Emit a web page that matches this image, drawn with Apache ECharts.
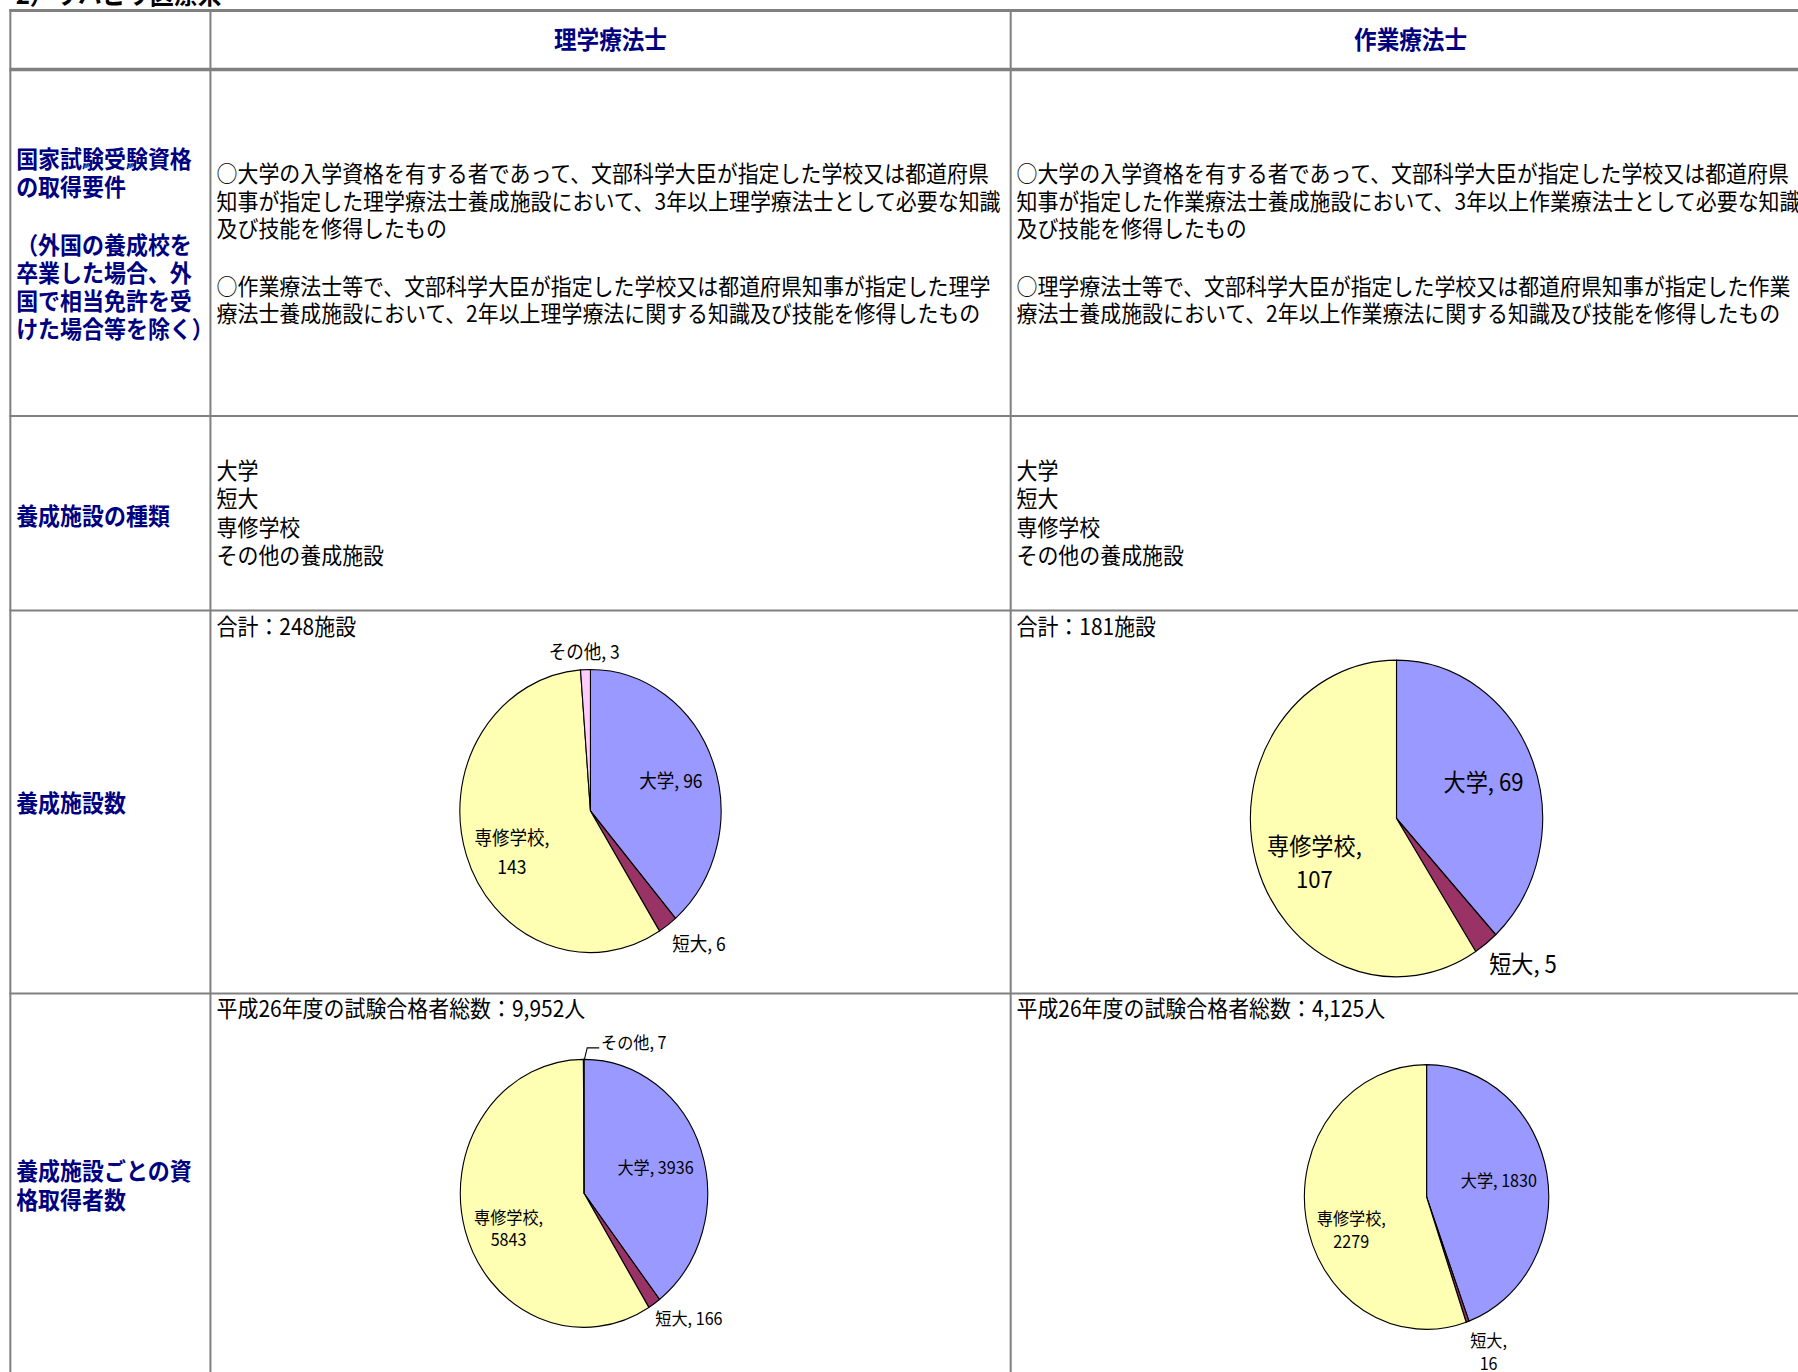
<!DOCTYPE html>
<html><head><meta charset="utf-8">
<script src="https://cdn.jsdelivr.net/npm/echarts@6/dist/echarts.min.js"></script>
<style>
html,body{margin:0;padding:0;background:#fff;overflow:hidden;width:1798px;height:1372px}
#chart{width:1948px;height:1372px;transform:scaleX(0.923);transform-origin:0 0;}
</style>
</head><body><div id="chart"></div>
<script>
// ---- data ----
const categories = ['大学', '短大', '専修学校', 'その他'];
const ptFacilities = [96, 6, 143, 3];
const otFacilities = [69, 5, 107, 0];
const ptPassers = [3936, 166, 5843, 7];
const otPassers = [1830, 16, 2279, 0];
const examYear = '平成26年度';
const pageTitle = '2）リハビリ医療系';
const columnHeaders = ['理学療法士', '作業療法士'];
const rowHeaderLines = [
  ['国家試験受験資格', 'の取得要件', '（外国の養成校を', '卒業した場合、外', '国で相当免許を受', 'けた場合等を除く）'],
  ['養成施設の種類'],
  ['養成施設数'],
  ['養成施設ごとの資', '格取得者数']
];
const requirementsPT = [
  '○大学の入学資格を有する者であって、文部科学大臣が指定した学校又は都道府県',
  '知事が指定した理学療法士養成施設において、3年以上理学療法士として必要な知識',
  '及び技能を修得したもの',
  '○作業療法士等で、文部科学大臣が指定した学校又は都道府県知事が指定した理学',
  '療法士養成施設において、2年以上理学療法に関する知識及び技能を修得したもの'
];
const requirementsOT = [
  '○大学の入学資格を有する者であって、文部科学大臣が指定した学校又は都道府県',
  '知事が指定した作業療法士養成施設において、3年以上作業療法士として必要な知識',
  '及び技能を修得したもの',
  '○理学療法士等で、文部科学大臣が指定した学校又は都道府県知事が指定した作業',
  '療法士養成施設において、2年以上作業療法に関する知識及び技能を修得したもの'
];
const facilityTypes = ['大学', '短大', '専修学校', 'その他の養成施設'];

// ---- layout / style (unscaled px) ----
const FONT = '"Noto Sans CJK JP", "Noto Sans CJK SC", sans-serif';
const W = 1948;
const NAVY = '#000080';
const GRID = '#808080';
const TDY = -2.5;
const colX = [11.2, 228, 1095];
const hLines = [[10.5, 3], [69.5, 3.5], [416, 2.2], [610.5, 2.2], [993.5, 2.2]];
const labelX = 17.5;
const rowHeaderY = [[160, 188, 246, 274, 302, 330], [517], [804], [1172, 1201]];
const colTextX = [234.6, 1101.3];
const colCenterX = [661.4, 1528.2];
const reqY = [175, 203, 230, 288, 315];
const typeY = [472, 500, 529, 557];
const totalY = [628, 1010];
const sliceColors = { '大学': '#9999FF', '短大': '#993366', '専修学校': '#FFFFB3', 'その他': '#FFCCFF' };

const pies = [
  { values: ptFacilities, cx: 639.7, cy: 811, r: 141.5, fs: 19, lh: 29,
    pos: { '大学': [87.2, -29.3], '短大': [117.6, 134], '専修学校': [-85.1, 42.8], 'その他': [-6.7, -158.3] },
    twoLine: ['専修学校'] },
  { values: otFacilities, cx: 1513, cy: 818.5, r: 158.3, fs: 24, lh: 33,
    pos: { '大学': [94.3, -35.2], '短大': [137.1, 146.5], '専修学校': [-88.9, 44.8] },
    twoLine: ['専修学校'] },
  { values: ptPassers, cx: 632.7, cy: 1193.3, r: 134, fs: 17.5, lh: 22,
    pos: { '大学': [77.5, -24.3], '短大': [113.7, 126], '専修学校': [-81.7, 35.9], 'その他': [18.5, -150] },
    twoLine: ['専修学校'], leader: 'その他' },
  { values: otPassers, cx: 1545.6, cy: 1197, r: 132.4, fs: 17.5, lh: 23,
    pos: { '大学': [78.3, -15.3], '短大': [67.2, 156.3], '専修学校': [-81.6, 34] },
    twoLine: ['専修学校', '短大'] }
];

function sum(a) { return a.reduce((s, v) => s + v, 0); }
function txt(text, x, y, size, opts) {
  opts = opts || {};
  return { type: 'text', x: x, y: y + TDY, silent: true,
    style: { text: text, fill: opts.fill || '#000', fontSize: size, fontFamily: FONT,
      fontWeight: opts.bold ? 'bold' : 'normal', align: opts.align || 'left', verticalAlign: 'middle' } };
}

const graphics = [];
hLines.forEach(([y, w]) => graphics.push({ type: 'line', silent: true,
  shape: { x1: colX[0] - 1, y1: y, x2: W, y2: y }, style: { stroke: GRID, lineWidth: w } }));
colX.forEach(x => graphics.push({ type: 'line', silent: true,
  shape: { x1: x, y1: 9, x2: x, y2: 1372 }, style: { stroke: GRID, lineWidth: 2.2 } }));

graphics.push(txt(pageTitle, 17, -4.5, 26, { bold: true }));
columnHeaders.forEach((h, i) => graphics.push(txt(h, colCenterX[i], 41, 24.5, { bold: true, fill: NAVY, align: 'center' })));
rowHeaderLines.forEach((lines, gi) => lines.forEach((l, li) =>
  graphics.push(txt(l, labelX, rowHeaderY[gi][li], 23.8, { bold: true, fill: NAVY }))));
[requirementsPT, requirementsOT].forEach((lines, ci) => lines.forEach((l, li) =>
  graphics.push(txt(l, colTextX[ci], reqY[li], 22.7))));
[0, 1].forEach(ci => facilityTypes.forEach((t, li) => graphics.push(txt(t, colTextX[ci], typeY[li], 22.7))));
[ptFacilities, otFacilities].forEach((v, ci) =>
  graphics.push(txt('合計：' + sum(v) + '施設', colTextX[ci], totalY[0], 22.7)));
[ptPassers, otPassers].forEach((v, ci) =>
  graphics.push(txt(examYear + 'の試験合格者総数：' + sum(v).toLocaleString('en-US') + '人', colTextX[ci], totalY[1], 22.7)));

const series = pies.map(cfg => {
  const data = categories.map((c, i) => ({ name: c, value: cfg.values[i] })).filter(d => d.value > 0);
  return {
    type: 'pie', center: [cfg.cx, cfg.cy], radius: [0, cfg.r], startAngle: 90, clockwise: true,
    avoidLabelOverlap: false, animation: false, silent: true, emphasis: { disabled: true },
    itemStyle: { borderColor: '#000', borderWidth: 1.2 },
    label: { show: true, position: 'outside', color: '#000', fontSize: cfg.fs, lineHeight: cfg.lh,
      fontFamily: FONT, textBorderWidth: 0,
      formatter: p => p.name + (cfg.twoLine.indexOf(p.name) >= 0 ? ',\n' : ', ') + p.value },
    labelLine: { show: false, lineStyle: { color: '#000', width: 1.2 } },
    data: data.map(d => ({ name: d.name, value: d.value, itemStyle: { color: sliceColors[d.name] },
      labelLine: { show: d.name === cfg.leader } })),
    labelLayout: function (params) {
      const name = data[params.dataIndex].name;
      const p = cfg.pos[name];
      const lx = cfg.cx + p[0], ly = cfg.cy + p[1] + TDY;
      if (name === cfg.leader) {
        const ex = cfg.cx + 0.5, ey = cfg.cy - cfg.r;
        return { x: lx, y: ly, align: 'left', verticalAlign: 'middle',
          labelLinePoints: [[ex, ey], [ex + 3, ly + 7], [lx - 2, ly + 7]] };
      }
      return { x: lx, y: ly, align: 'center', verticalAlign: 'middle' };
    }
  };
});

const chart = echarts.init(document.getElementById('chart'), null, { renderer: 'svg' });
chart.setOption({ backgroundColor: '#fff', animation: false, graphic: graphics, series: series });
</script>
</body></html>
